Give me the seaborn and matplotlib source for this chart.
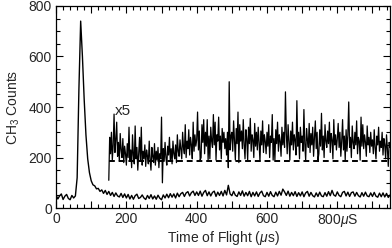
## CH3 time-of-flight spectrum with x5 trace - Line plot ###

import numpy as np
import matplotlib
matplotlib.use('Agg')
import matplotlib.pyplot as plt
from matplotlib.ticker import MultipleLocator, FuncFormatter
import seaborn as sns

# Main trace, one value every 5 us from 0 to 950
counts = [
    52, 36, 48, 56, 34, 47, 54, 38, 33, 50,
    40, 48, 120, 470, 740, 600, 430, 290, 195, 140,
    108, 92, 88, 76, 78, 66, 72, 58, 70, 54,
    66, 50, 62, 46, 60, 48, 44, 58, 42, 56,
    40, 54, 36, 50, 35, 49, 55, 38, 42, 52,
    40, 34, 50, 38, 53, 36, 48, 35, 51, 39,
    33, 52, 40, 55, 41, 57, 43, 56, 40, 59,
    45, 57, 62, 46, 60, 65, 48, 61, 67, 50,
    64, 50, 67, 47, 62, 70, 49, 64, 48, 62,
    67, 46, 63, 50, 66, 48, 70, 52, 90, 56,
    49, 66, 51, 46, 64, 50, 68, 47, 62, 49,
    66, 45, 62, 48, 64, 46, 60, 67, 49, 45,
    62, 47, 65, 50, 45, 63, 48, 66, 51, 75,
    64, 50, 67, 47, 62, 49, 65, 46, 61, 48,
    64, 45, 60, 66, 47, 62, 49, 44, 60, 46,
    63, 48, 45, 61, 47, 65, 49, 70, 52, 47,
    64, 50, 45, 62, 66, 48, 63, 46, 61, 64,
    47, 62, 49, 44, 61, 47, 63, 48, 45, 60,
    46, 62, 47, 43, 59, 45, 60, 44, 58, 42,
    52,
]
time = np.arange(len(counts)) * 5

# x5 trace, one value every 2.5 us from 150 to 950
counts_x5 = [
    110, 280, 215, 300, 190, 250, 372, 220, 270, 340,
    205, 260, 185, 295, 230, 200, 275, 180, 245, 215,
    170, 255, 200, 320, 185, 230, 160, 290, 210, 175,
    325, 195, 240, 150, 215, 280, 185, 320, 170, 225,
    195, 250, 165, 230, 205, 175, 265, 190, 150, 240,
    205, 180, 255, 170, 225, 190, 240, 160, 215, 195,
    360, 100, 235, 185, 260, 200, 170, 245, 210, 280,
    190, 235, 175, 265, 215, 195, 250, 180, 290, 225,
    205, 270, 230, 195, 300, 240, 215, 330, 200, 265,
    235, 310, 210, 280, 250, 195, 340, 225, 290, 245,
    270, 380, 230, 305, 190, 200, 330, 260, 350, 215,
    300, 245, 350, 190, 285, 195, 320, 265, 240, 370,
    250, 340, 190, 290, 265, 360, 230, 285, 195, 315,
    260, 300, 235, 275, 210, 300, 160, 500, 230, 285,
    300, 225, 345, 270, 190, 315, 255, 380, 180, 330,
    265, 305, 235, 350, 250, 195, 310, 275, 190, 320,
    255, 355, 225, 290, 270, 200, 335, 245, 300, 230,
    320, 260, 185, 305, 250, 345, 220, 290, 265, 215,
    300, 245, 330, 200, 285, 260, 370, 190, 275, 190,
    310, 255, 340, 225, 290, 265, 205, 320, 250, 300,
    240, 460, 295, 215, 330, 265, 190, 305, 250, 340,
    230, 290, 270, 210, 425, 245, 300, 195, 320, 260,
    285, 225, 390, 255, 190, 315, 270, 240, 335, 220,
    295, 250, 320, 205, 280, 345, 235, 300, 190, 215,
    310, 245, 375, 230, 285, 200, 330, 265, 240, 305,
    255, 340, 220, 295, 270, 195, 350, 250, 290, 230,
    275, 335, 240, 300, 205, 265, 350, 230, 285, 190,
    310, 225, 290, 420, 240, 280, 200, 325, 260, 235,
    300, 250, 345, 215, 280, 265, 190, 360, 245, 330,
    235, 290, 260, 205, 325, 250, 280, 220, 300, 245,
    270, 215, 310, 240, 195, 285, 250, 320, 225, 265,
    240, 300, 210, 275, 250, 195, 290, 235, 165, 260,
    240,
]
time_x5 = 150 + np.arange(len(counts_x5)) * 2.5

# Dashed reference level for the x5 trace
ref_level = 185
ref_span = [150, 950]

sns.set_style('ticks')
plt.rcParams['font.family'] = ['Liberation Sans', 'DejaVu Sans']
plt.rcParams['mathtext.fontset'] = 'custom'
plt.rcParams['mathtext.rm'] = 'Liberation Sans'
plt.rcParams['mathtext.it'] = 'Liberation Sans:italic'

fig = plt.figure(figsize=(3.92, 2.48), dpi=100)
ax = fig.add_axes([0.143, 0.161, 0.852, 0.815])

sns.lineplot(x=time, y=counts, color='black', lw=1.0, ax=ax)
sns.lineplot(x=time_x5, y=counts_x5, color='black', lw=0.9, ax=ax)
ax.plot(ref_span, [ref_level, ref_level], color='black', lw=1.4, ls=(0, (3, 2)))

ax.text(168, 385, 'x5', fontsize=11, va='center', ha='left')

ax.set_xlim(0, 950)
ax.set_ylim(0, 800)

def format_time_ticks(x, pos):
    if int(x) % 200 != 0:
        return ''
    if int(x) == 800:
        return '800$\\mu$S'
    return f'{int(x)}'

ax.xaxis.set_major_locator(MultipleLocator(100))
ax.xaxis.set_minor_locator(MultipleLocator(20))
ax.xaxis.set_major_formatter(FuncFormatter(format_time_ticks))
ax.yaxis.set_major_locator(MultipleLocator(200))
ax.yaxis.set_minor_locator(MultipleLocator(50))

ax.tick_params(which='both', direction='in', top=True, right=True, labelsize=10, width=0.8, color='black')
ax.tick_params(which='major', length=5, pad=3)
ax.tick_params(which='minor', length=3)
for s in ax.spines.values():
    s.set_linewidth(0.9)
    s.set_color('black')

ax.set_xlabel('Time of Flight ($\\mu$s)', fontsize=10, labelpad=0)
ax.set_ylabel('CH$_3$ Counts', fontsize=10, labelpad=5)

plt.savefig('out.png', dpi=100)
